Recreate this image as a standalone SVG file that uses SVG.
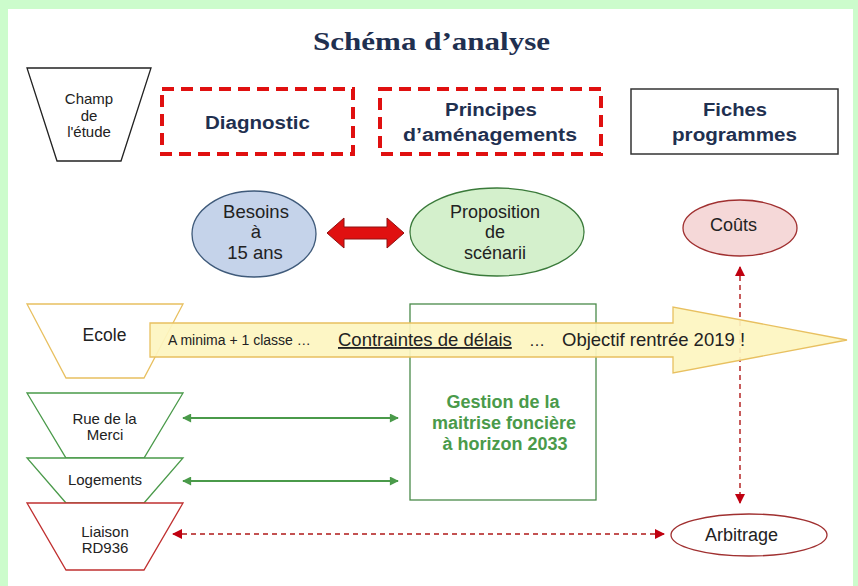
<svg xmlns="http://www.w3.org/2000/svg" width="858" height="586" viewBox="0 0 858 586">
<defs>
<style>
text{font-family:"Liberation Sans",Arial,sans-serif}
.t{fill:#222;text-anchor:middle}
.nv{font-weight:bold;fill:#1f3050;font-size:18px}
.gt{font-weight:bold;fill:#4a9a4a;text-anchor:middle;font-size:18px}
.red{fill:none;stroke:#e01010;stroke-width:4;stroke-dasharray:12,7}
.gr{stroke:#4a9a4a;stroke-width:2;fill:none}
.rd{stroke:#b01818;stroke-width:1.4;fill:none;stroke-dasharray:5,4}
</style>
<marker id="ga" viewBox="0 0 10 10" refX="9" refY="5" markerWidth="10" markerHeight="9" markerUnits="userSpaceOnUse" orient="auto-start-reverse"><path d="M0,0L10,5L0,10z" fill="#4a9a4a"/></marker>
<marker id="ra" viewBox="0 0 10 10" refX="9" refY="5" markerWidth="10" markerHeight="10" markerUnits="userSpaceOnUse" orient="auto-start-reverse"><path d="M0,0L10,5L0,10z" fill="#c00010"/></marker>
</defs>
<rect width="858" height="586" fill="#ccfccc"/>
<rect x="8" y="9" width="845" height="577" fill="#fff"/>
<text x="313" y="50" font-weight="bold" font-size="26" fill="#1f3050" textLength="237" lengthAdjust="spacingAndGlyphs" style="font-family:'Liberation Serif',serif">Schéma d’analyse</text>

<g id="champ">
<polygon points="27,68 151,68 121,161 57,161" fill="#fff" stroke="#222" stroke-width="1.3"/>
<text class="t" font-size="15" x="89" y="104">Champ</text>
<text class="t" font-size="15" x="89" y="121">de</text>
<text class="t" font-size="15" x="89" y="137">l'étude</text>
</g>
<g id="diagnostic">
<rect x="162" y="89" width="191" height="65" class="red"/>
<text class="nv" x="205" y="129" textLength="105" lengthAdjust="spacingAndGlyphs">Diagnostic</text>
</g>
<g id="principes">
<rect x="380" y="89" width="221" height="65" class="red"/>
<text class="nv" x="445" y="116" textLength="92" lengthAdjust="spacingAndGlyphs">Principes</text>
<text class="nv" x="403" y="141" textLength="174" lengthAdjust="spacingAndGlyphs">d’aménagements</text>
</g>
<g id="fiches">
<rect x="631" y="89" width="207" height="65" fill="#fff" stroke="#333" stroke-width="1.5"/>
<text class="nv" x="703" y="116" textLength="64" lengthAdjust="spacingAndGlyphs">Fiches</text>
<text class="nv" x="672" y="141" textLength="125" lengthAdjust="spacingAndGlyphs">programmes</text>
</g>

<g id="besoins">
<ellipse cx="254" cy="234" rx="62" ry="43" fill="#c5d3ea" stroke="#3f5a7a" stroke-width="1.3"/>
<text class="t" font-size="18.5" x="256" y="218">Besoins</text>
<text class="t" font-size="18.5" x="256" y="238">à</text>
<text class="t" font-size="18.5" x="255" y="259">15 ans</text>
</g>
<g id="proposition">
<ellipse cx="497" cy="232" rx="87" ry="44" fill="#d4f0cc" stroke="#3a7a3a" stroke-width="1.3"/>
<text class="t" font-size="18" x="495" y="218">Proposition</text>
<text class="t" font-size="18" x="495" y="238">de</text>
<text class="t" font-size="18" x="495" y="259">scénarii</text>
</g>
<g id="couts">
<ellipse cx="740" cy="228" rx="57" ry="28" fill="#f5d8d8" stroke="#a03030" stroke-width="1.3"/>
<text class="t" font-size="18" x="733.5" y="231">Coûts</text>
</g>
<g id="arbitrage">
<ellipse cx="749" cy="535" rx="78" ry="21" fill="#fff" stroke="#a03030" stroke-width="1.3"/>
<text class="t" font-size="18" x="741.5" y="541">Arbitrage</text>
</g>

<g id="ecole">
<polygon points="27,304 183,304 144,378 66,378" fill="#fff" stroke="#e8c060" stroke-width="1.3"/>
<text class="t" font-size="17.5" x="104.5" y="341">Ecole</text>
</g>
<g id="gestion">
<rect x="410" y="304" width="186" height="196" fill="#fff" stroke="#4a8a4a" stroke-width="1.3"/>
<text class="gt" x="503" y="408">Gestion de la</text>
<text class="gt" x="504" y="429">maitrise foncière</text>
<text class="gt" x="505" y="450">à horizon 2033</text>
</g>
<g id="rue">
<polygon points="27,393 183,393 144,458 66,458" fill="#fff" stroke="#4a9a4a" stroke-width="1.3"/>
<text class="t" font-size="15" x="104.5" y="424">Rue de la</text>
<text class="t" font-size="15" x="105" y="440">Merci</text>
</g>
<g id="logements">
<polygon points="27,458 183,458 144,503 66,503" fill="#fff" stroke="#4a9a4a" stroke-width="1.3"/>
<text class="t" font-size="15" x="105" y="485">Logements</text>
</g>
<g id="liaison">
<polygon points="27,503 183,503 144,570 66,570" fill="#fff" stroke="#c03030" stroke-width="1.3"/>
<text class="t" font-size="15" x="105" y="537">Liaison</text>
<text class="t" font-size="15" x="105" y="553">RD936</text>
</g>

<g id="connectors">
<path d="M327,233 L344,218 L344,227 L387,227 L387,218 L404,233 L387,248 L387,239 L344,239 L344,248 Z" fill="#e01010" stroke="#901010" stroke-width="1"/>
<line x1="740" y1="267" x2="740" y2="503" class="rd" marker-start="url(#ra)" marker-end="url(#ra)"/>
<line x1="173" y1="534" x2="664" y2="534" class="rd" marker-start="url(#ra)" marker-end="url(#ra)"/>
<line x1="183" y1="418" x2="398" y2="418" class="gr" marker-start="url(#ga)" marker-end="url(#ga)"/>
<line x1="183" y1="481" x2="398" y2="481" class="gr" marker-start="url(#ga)" marker-end="url(#ga)"/>
<g id="bigarrow">
<path d="M150,323 L673,323 L673,307 L847,340 L673,373 L673,357 L150,357 Z" fill="#fdf5c0" fill-opacity="0.92" stroke="#e8c060" stroke-width="1.3"/>
<text fill="#222" font-size="14" x="168" y="345">A minima + 1 classe …</text>
<text fill="#222" font-size="18.5" x="338" y="346" text-decoration="underline">Contraintes de délais</text>
<text fill="#222" font-size="16" x="529" y="346">…</text>
<text fill="#222" font-size="18.5" x="562" y="346">Objectif rentrée 2019 !</text>
</g>
</g>
</svg>
